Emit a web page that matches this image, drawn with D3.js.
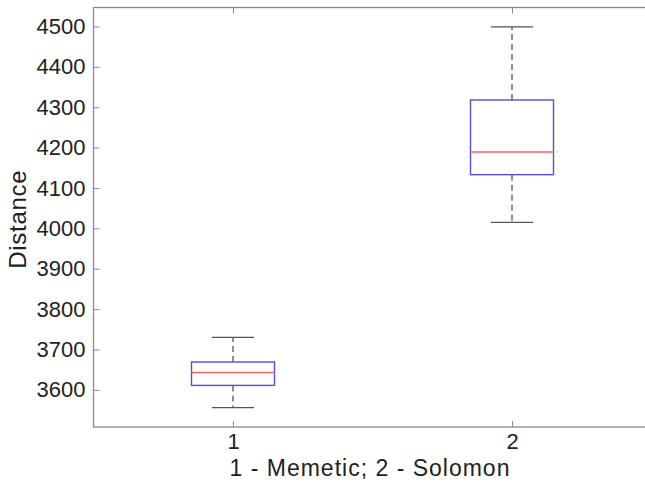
<!DOCTYPE html>
<html><head><meta charset="utf-8">
<script src="https://cdn.jsdelivr.net/npm/d3@7"></script>
<style>body{margin:0;background:#fff;overflow:hidden}svg{display:block}text{font-family:"Liberation Sans",Arial,sans-serif;fill:#222}</style>
</head><body><svg id="c" width="645" height="484"></svg>
<script>
const categories = [1, 2];
const whiskerLow = [3556, 4015];
const q1 = [3611, 4133];
const median = [3643, 4189];
const q3 = [3669, 4318];
const whiskerHigh = [3730, 4499];
const yTicks = [3600, 3700, 3800, 3900, 4000, 4100, 4200, 4300, 4400, 4500];
const xLabel = "1 - Memetic; 2 - Solomon";
const yLabel = "Distance";

const svg = d3.select("#c");
const L = 93.5, T = 7.5, R = 651.5, B = 427;
const x = d3.scaleLinear().domain([0.5, 2.5]).range([L, R]);
const y = d3.scaleLinear().domain([3508, 4547]).range([B, T]);
const axisColor = "#8a8a8a";

// frame
svg.append("rect").attr("x", L).attr("y", T).attr("width", R - L).attr("height", B - T)
  .attr("fill", "none").attr("stroke", axisColor).attr("stroke-width", 1.3);

// axes
const yl = svg.append("g").attr("transform", `translate(${L},0)`)
  .call(d3.axisLeft(y).tickValues(yTicks).tickSize(-6).tickPadding(8).tickFormat(d3.format("d")));
const yr = svg.append("g").attr("transform", `translate(${R},0)`)
  .call(d3.axisRight(y).tickValues(yTicks).tickSize(-6).tickFormat(""));
const xb = svg.append("g").attr("transform", `translate(0,${B})`)
  .call(d3.axisBottom(x).tickValues(categories).tickSize(-6).tickPadding(6).tickFormat(d3.format("d")));
const xt = svg.append("g").attr("transform", `translate(0,${T})`)
  .call(d3.axisTop(x).tickValues(categories).tickSize(-6).tickFormat(""));
[yl, yr, xb, xt].forEach(g => {
  g.select(".domain").remove();
  g.selectAll(".tick line").attr("stroke", axisColor).attr("stroke-width", 1);
  g.selectAll(".tick text").attr("font-size", 22).attr("fill", "#222")
    .attr("font-family", '"Liberation Sans",Arial,sans-serif');
});

// boxes
const boxW = 83, capW = 42;
const g = svg.append("g");
categories.forEach((c, i) => {
  const cx = x(c);
  g.append("line").attr("x1", cx).attr("x2", cx).attr("y1", y(q3[i])).attr("y2", y(whiskerHigh[i]))
    .attr("stroke", "#555").attr("stroke-width", 1.3).attr("stroke-dasharray", "6,4");
  g.append("line").attr("x1", cx).attr("x2", cx).attr("y1", y(q1[i])).attr("y2", y(whiskerLow[i]))
    .attr("stroke", "#555").attr("stroke-width", 1.3).attr("stroke-dasharray", "6,4");
  [whiskerHigh[i], whiskerLow[i]].forEach(v => {
    g.append("line").attr("x1", cx - capW / 2).attr("x2", cx + capW / 2).attr("y1", y(v)).attr("y2", y(v))
      .attr("stroke", "#555").attr("stroke-width", 1.3);
  });
  g.append("rect").attr("x", cx - boxW / 2).attr("width", boxW)
    .attr("y", y(q3[i])).attr("height", y(q1[i]) - y(q3[i]))
    .attr("fill", "none").attr("stroke", "#5050d8").attr("stroke-width", 1.4);
  g.append("line").attr("x1", cx - boxW / 2).attr("x2", cx + boxW / 2).attr("y1", y(median[i])).attr("y2", y(median[i]))
    .attr("stroke", "#ff6060").attr("stroke-width", 1.4);
});

// labels
svg.append("text").attr("x", 370).attr("y", 476).attr("text-anchor", "middle")
  .attr("font-size", 23).attr("letter-spacing", 1).text(xLabel);
svg.append("text").attr("transform", `translate(26,${(T + B) / 2 + 2}) rotate(-90)`).attr("text-anchor", "middle")
  .attr("font-size", 24).attr("letter-spacing", 0.7).text(yLabel);
</script></body></html>
